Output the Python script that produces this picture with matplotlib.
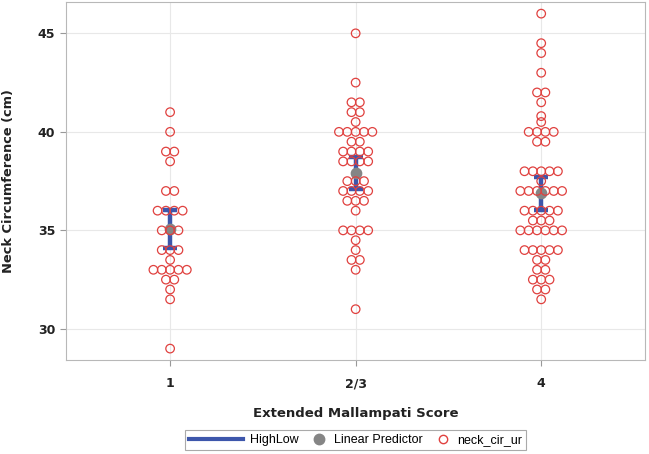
import matplotlib.pyplot as plt
import numpy as np
from matplotlib.lines import Line2D
from matplotlib.legend_handler import HandlerLine2D

# data
categories = ['1', '2/3', '4']

neck_g1 = [41, 40, 39, 39, 38.5, 37, 37, 36, 36, 36, 36, 35, 35, 35,
           34, 34, 34, 33.5, 33, 33, 33, 33, 33, 32.5, 32.5, 32, 31.5, 29]
neck_g2 = [45, 42.5, 41.5, 41.5, 41, 41, 40.5, 40, 40, 40, 40, 40,
           39.5, 39.5, 39, 39, 39, 39, 38.5, 38.5, 38.5, 38.5,
           37.5, 37.5, 37.5, 37, 37, 37, 37, 36.5, 36.5, 36.5, 36,
           35, 35, 35, 35, 34.5, 34, 33.5, 33.5, 33, 31]
neck_g3 = [46, 44.5, 44, 43, 42, 42, 41.5, 40.8, 40.5, 40, 40, 40, 40,
           39.5, 39.5, 38, 38, 38, 38, 38, 37.5, 37, 37, 37, 37, 37, 37,
           36, 36, 36, 36, 36, 35.5, 35.5, 35.5, 35, 35, 35, 35, 35, 35,
           34, 34, 34, 34, 34, 33.5, 33.5, 33, 33, 32.5, 32.5, 32.5,
           32, 32, 31.5]

pred_mean = [35.05, 37.9, 36.9]
pred_low = [34.1, 37.1, 36.05]
pred_high = [36.05, 38.7, 37.7]

red = '#e0413f'
blue = '#3d56ab'
gray = '#858585'


class LongLine(HandlerLine2D):
    # stretch the line handle so it is longer than the marker handles
    def legend_artist(self, legend, orig_handle, fontsize, handlebox):
        handlebox.width = handlebox.width * 3.6
        return super().legend_artist(legend, orig_handle, fontsize, handlebox)


fig = plt.figure(figsize=(6.49, 4.54), dpi=100)
ax = fig.add_axes([0.102, 0.207, 0.892, 0.789])

x = np.arange(len(categories))

# HighLow bars
ax.errorbar(x, pred_mean,
            yerr=[np.array(pred_mean) - np.array(pred_low),
                  np.array(pred_high) - np.array(pred_mean)],
            fmt='none', ecolor=blue, elinewidth=3.2, capsize=5, capthick=3.2,
            zorder=3)

# linear predictor
ax.scatter(x, pred_mean, s=55, color=gray, zorder=4)

# raw points, spread sideways where values repeat
step = 0.045
for xi, vals in zip(x, [neck_g1, neck_g2, neck_g3]):
    vals = np.array(vals)
    xs = np.zeros(len(vals))
    for v in np.unique(vals):
        idx = np.where(vals == v)[0]
        n = len(idx)
        xs[idx] = xi + (np.arange(n) - (n - 1) / 2) * step
    ax.scatter(xs, vals, s=38, facecolors='none', edgecolors=red,
               linewidths=0.9, zorder=5)

ax.set_xlim(-0.56, 2.56)
ax.set_ylim(28.42, 46.6)
ax.set_xticks(x)
ax.set_xticklabels(categories)
ax.set_yticks([30, 35, 40, 45])

ax.grid(True, color='#e8e8e8', linewidth=0.8)
ax.set_axisbelow(True)
for s in ax.spines.values():
    s.set_color('#b8b8b8')
ax.tick_params(colors='#999999', labelcolor='#222222', length=4.5)
ax.tick_params(axis='x', pad=8)
for lab in ax.get_xticklabels() + ax.get_yticklabels():
    lab.set_fontweight('bold')
    lab.set_fontsize(9)

ax.set_xlabel('Extended Mallampati Score', fontsize=9.5, fontweight='bold',
              color='#222222', labelpad=12)
ax.set_ylabel('Neck Circumference (cm)', fontsize=9.4, fontweight='bold',
              color='#222222', labelpad=16)

line_h = Line2D([], [], color=blue, lw=3)
handles = [
    line_h,
    Line2D([], [], marker='o', ls='none', color=gray, markersize=7.5),
    Line2D([], [], marker='o', ls='none', markerfacecolor='none',
           markeredgecolor=red, markersize=6),
]
leg = fig.legend(handles, ['HighLow', 'Linear Predictor', 'neck_cir_ur'],
                 loc='center', bbox_to_anchor=(0.548, 0.031), ncol=3,
                 fancybox=False, framealpha=1, edgecolor='#aaaaaa',
                 prop={'family': 'Liberation Sans', 'size': 9},
                 handlelength=1.2, handletextpad=0.6, columnspacing=1.0,
                 borderpad=0.3, handler_map={line_h: LongLine()})
leg.get_frame().set_linewidth(0.8)

plt.savefig('out.png', dpi=100)
